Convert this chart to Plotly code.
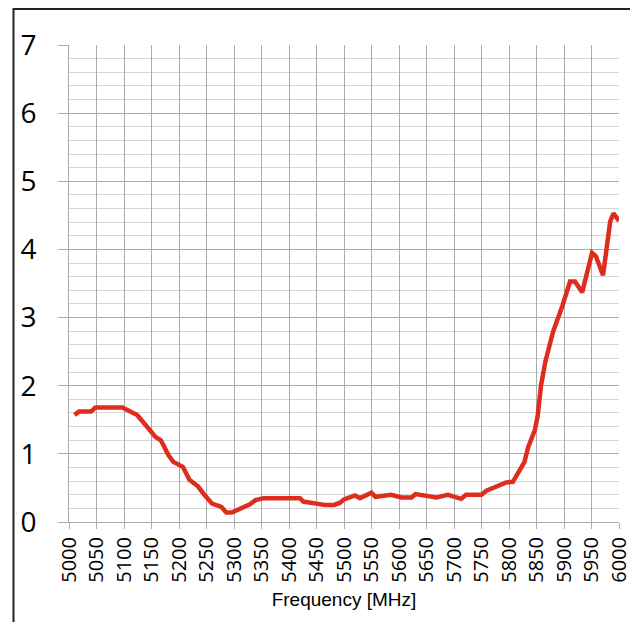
import plotly.graph_objects as go

freq_mhz = [5010, 5018, 5040, 5048, 5097, 5113, 5124, 5148, 5157, 5167, 5181, 5190,
            5207, 5219, 5235, 5245, 5260, 5277, 5286, 5296, 5311, 5329, 5339, 5354,
            5420, 5426, 5450, 5465, 5482, 5492, 5500, 5520, 5529, 5550, 5557, 5586,
            5604, 5623, 5630, 5668, 5689, 5713, 5722, 5750, 5759, 5786, 5795, 5807,
            5819, 5828, 5835, 5847, 5852, 5858, 5866, 5880, 5897, 5911, 5920, 5933,
            5951, 5958, 5971, 5984, 5990, 6000]
values = [1.57, 1.62, 1.62, 1.68, 1.68, 1.62, 1.57, 1.34, 1.25, 1.20, 0.98, 0.88,
          0.81, 0.62, 0.52, 0.41, 0.27, 0.22, 0.14, 0.14, 0.19, 0.26, 0.32, 0.35,
          0.35, 0.30, 0.27, 0.25, 0.25, 0.28, 0.33, 0.39, 0.35, 0.43, 0.37, 0.40,
          0.36, 0.36, 0.41, 0.36, 0.40, 0.34, 0.40, 0.40, 0.46, 0.54, 0.58, 0.59,
          0.74, 0.88, 1.10, 1.35, 1.55, 1.99, 2.35, 2.79, 3.17, 3.53, 3.53, 3.37,
          3.95, 3.90, 3.62, 4.41, 4.53, 4.42]

x_ticks = list(range(5000, 6001, 50))
y_ticks = list(range(0, 8))

MAJOR = "#ababab"
MINOR = "#d6d6d6"

W, H = 630, 614
L, R, T, B = 61, 19, 37, 100
PW, PH = W - L - R, H - T - B

fig = go.Figure()
fig.add_trace(go.Scatter(x=freq_mhz, y=values, mode="lines",
                         line=dict(color="#DE2D1F", width=4.5, shape="linear"),
                         showlegend=False, hoverinfo="skip"))

fig.update_layout(
    width=W, height=H,
    margin=dict(l=L, r=R, t=T, b=B, autoexpand=False),
    paper_bgcolor="white", plot_bgcolor="white",
    showlegend=False,
    xaxis=dict(
        range=[5000, 6000], tickvals=x_ticks, ticktext=[str(v) for v in x_ticks],
        tickangle=-90, ticks="outside", ticklen=6, tickcolor=MAJOR, tickwidth=1,
        showgrid=True, gridcolor=MAJOR, gridwidth=1,
        showline=True, linecolor=MAJOR, linewidth=1,
        zeroline=False, automargin=False,
        tickfont=dict(family="Open Sans", size=20, color="#000000"),
        title=dict(text="Frequency [MHz]", standoff=10,
                   font=dict(family="Liberation Sans", size=19, color="#000000")),
    ),
    yaxis=dict(
        range=[0, 7], tickvals=y_ticks, ticktext=[str(v) for v in y_ticks],
        ticks="outside", ticklen=10, tickcolor=MAJOR, tickwidth=1,
        ticklabelstandoff=16,
        showgrid=True, gridcolor=MAJOR, gridwidth=1,
        minor=dict(dtick=0.2, showgrid=True, gridcolor=MINOR, gridwidth=1, ticks=""),
        showline=True, linecolor=MAJOR, linewidth=1,
        zeroline=False, automargin=False,
        tickfont=dict(family="Open Sans", size=28, color="#000000"),
    ),
    shapes=[dict(type="rect", xref="paper", yref="paper",
                 x0=(5.5 - L) / PW, x1=(624 - L) / PW,
                 y0=(T + PH - 640) / PH, y1=(T + PH - 1) / PH,
                 line=dict(color="#222222", width=2), fillcolor="rgba(0,0,0,0)",
                 layer="above")],
)

fig.write_html("out.html")
